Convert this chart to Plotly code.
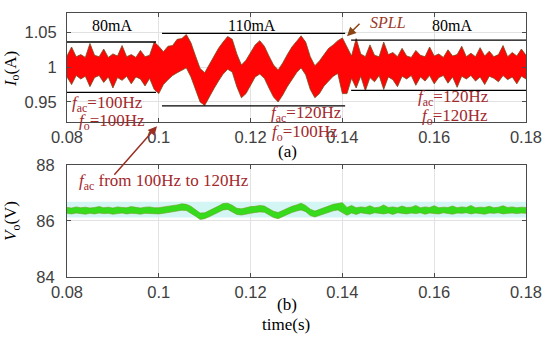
import numpy as np
import plotly.graph_objects as go

# ---------------- data ----------------
t_start = 0.080
t_step = 0.001
n_samples = 101
time_s = np.round(t_start + t_step * np.arange(n_samples), 3)

# Io (A) envelope
io_upper = [
    1.016, 1.029, 1.015, 1.018, 1.014, 1.034, 1.017, 1.015, 1.026, 1.014,
    1.019, 1.016, 1.031, 1.015, 1.018, 1.014, 1.024, 1.015, 1.017, 1.036,
    1.030, 1.022, 1.030, 1.031, 1.040, 1.041, 1.047, 1.035, 1.016, 0.998,
    0.992, 1.004, 1.015, 1.027, 1.036, 1.044, 1.040, 1.019, 1.003, 1.010,
    1.021, 1.032, 1.038, 1.030, 1.016, 1.003, 0.996, 1.006, 1.018, 1.029,
    1.037, 1.045, 1.036, 1.015, 1.002, 1.009, 1.018, 1.027, 1.032, 1.038,
    1.042,
    1.030, 1.016, 1.041, 1.019, 1.015, 1.032, 1.017, 1.015, 1.036, 1.018,
    1.021, 1.015, 1.027, 1.016, 1.014, 1.024, 1.017, 1.015, 1.029, 1.016,
    1.019, 1.014, 1.025, 1.016, 1.018, 1.030, 1.015, 1.020, 1.015, 1.028,
    1.016, 1.023, 1.015, 1.018, 1.031, 1.015, 1.021, 1.016, 1.026, 1.017,
]
io_lower = [
    0.986, 0.975, 0.988, 0.983, 0.987, 0.972, 0.985, 0.988, 0.978, 0.986,
    0.970, 0.985, 0.981, 0.987, 0.976, 0.986, 0.983, 0.973, 0.984, 0.968,
    0.962, 0.975, 0.982, 0.988, 0.992, 0.996, 0.999, 0.986, 0.968, 0.950,
    0.945, 0.958, 0.969, 0.980, 0.990, 0.997, 0.993, 0.972, 0.956, 0.962,
    0.975, 0.986, 0.990, 0.984, 0.970, 0.957, 0.950, 0.960, 0.972, 0.983,
    0.992, 0.999, 0.989, 0.968, 0.956, 0.962, 0.973, 0.980, 0.987, 0.991,
    0.962,
    0.962, 0.984, 0.970, 0.987, 0.966, 0.985, 0.979, 0.988, 0.968, 0.986,
    0.982, 0.972, 0.987, 0.983, 0.988, 0.974, 0.986, 0.980, 0.988, 0.976,
    0.985, 0.988, 0.977, 0.986, 0.971, 0.987, 0.983, 0.988, 0.980, 0.986,
    0.975, 0.987, 0.984, 0.979, 0.988, 0.982, 0.986, 0.976, 0.987, 0.983,
]

# Vo (V) envelope
vo_upper = [
    86.48, 86.46, 86.50, 86.47, 86.49, 86.46, 86.48, 86.51, 86.47, 86.49,
    86.46, 86.50, 86.48, 86.47, 86.51, 86.48, 86.46, 86.49, 86.50, 86.47,
    86.47, 86.50, 86.52, 86.55, 86.57, 86.61, 86.59, 86.52, 86.39, 86.28,
    86.29, 86.36, 86.45, 86.53, 86.62, 86.63, 86.56, 86.45, 86.43, 86.47,
    86.51, 86.52, 86.55, 86.53, 86.44, 86.34, 86.30, 86.38, 86.45, 86.52,
    86.57, 86.63, 86.55, 86.42, 86.35, 86.41, 86.49, 86.54, 86.59, 86.62,
    86.65,
    86.48, 86.55, 86.47, 86.50, 86.48, 86.54, 86.47, 86.49, 86.57, 86.48,
    86.50, 86.47, 86.53, 86.48, 86.49, 86.55, 86.47, 86.50, 86.48, 86.54,
    86.47, 86.49, 86.48, 86.53, 86.47, 86.50, 86.48, 86.55, 86.47, 86.49,
    86.48, 86.52, 86.47, 86.49, 86.54, 86.48, 86.50, 86.47, 86.49, 86.48,
]
vo_lower = [
    86.27, 86.25, 86.28, 86.26, 86.24, 86.27, 86.25, 86.28, 86.26, 86.27,
    86.24, 86.26, 86.28, 86.25, 86.27, 86.26, 86.24, 86.27, 86.26, 86.25,
    86.25, 86.27, 86.30, 86.32, 86.36, 86.38, 86.37, 86.28, 86.17, 86.05,
    86.08, 86.15, 86.23, 86.31, 86.39, 86.41, 86.32, 86.23, 86.21, 86.25,
    86.27, 86.30, 86.32, 86.31, 86.22, 86.12, 86.08, 86.16, 86.24, 86.30,
    86.35, 86.39, 86.33, 86.19, 86.14, 86.20, 86.26, 86.31, 86.36, 86.39,
    86.29,
    86.20, 86.28, 86.23, 86.29, 86.26, 86.24, 86.29, 86.27, 86.25, 86.28,
    86.23, 86.29, 86.27, 86.25, 86.28, 86.26, 86.29, 86.24, 86.28, 86.27,
    86.25, 86.29, 86.26, 86.24, 86.28, 86.27, 86.29, 86.25, 86.28, 86.26,
    86.24, 86.28, 86.27, 86.29, 86.25, 86.27, 86.28, 86.26, 86.28, 86.27,
]

# current reference levels (A) and their time spans (s)
level_segments = [
    # (t0, t1, upper, lower)
    (0.0800, 0.0994, 1.0361, 0.9639),
    (0.1007, 0.1406, 1.0486, 0.9444),
    (0.1419, 0.1800, 1.0389, 0.9667),
]

x_tick_vals = [0.08, 0.10, 0.12, 0.14, 0.16, 0.18]
x_tick_text = ["0.08", "0.1", "0.12", "0.14", "0.16", "0.18"]
io_tick_vals = [0.95, 1.0, 1.05]
io_tick_text = ["0.95", "1", "1.05"]
vo_tick_vals = [84, 86, 88]
vo_tick_text = ["84", "86", "88"]

assert len(io_upper) == n_samples and len(io_lower) == n_samples
assert len(vo_upper) == n_samples and len(vo_lower) == n_samples

# ---------------- figure ----------------
W, H = 550, 339
ML, MR, MT, MB = 67, 24, 4, 62
PW, PH = W - ML - MR, H - MT - MB

def px(xp, yp):
    return (xp - ML) / PW, (H - MB - yp) / PH

SERIF = "Liberation Serif, Times New Roman, serif"
SANS = "Liberation Sans, Arial, sans-serif"
RED_TXT = "#A3282C"

fig = go.Figure()

fig.add_trace(go.Scatter(x=time_s, y=io_lower, mode="lines",
                         line=dict(color="#7a4a1a", width=0.8),
                         xaxis="x", yaxis="y", showlegend=False, hoverinfo="skip"))
fig.add_trace(go.Scatter(x=time_s, y=io_upper, mode="lines", fill="tonexty",
                         fillcolor="#FF0505",
                         line=dict(color="#7a4a1a", width=0.8),
                         xaxis="x", yaxis="y", showlegend=False, hoverinfo="skip"))

fig.add_trace(go.Scatter(x=time_s, y=vo_lower, mode="lines",
                         line=dict(color="#6b9e1e", width=0.6),
                         xaxis="x2", yaxis="y2", showlegend=False, hoverinfo="skip"))
fig.add_trace(go.Scatter(x=time_s, y=vo_upper, mode="lines", fill="tonexty",
                         fillcolor="#36DC1C",
                         line=dict(color="#6b9e1e", width=0.6),
                         xaxis="x2", yaxis="y2", showlegend=False, hoverinfo="skip"))

axis_common = dict(showline=True, linecolor="#4a4a4a", linewidth=1, mirror="ticks",
                   ticks="inside", ticklen=4, tickcolor="#4a4a4a",
                   showgrid=True, gridcolor="#e2e2e2", gridwidth=1, zeroline=False,
                   ticklabeloverflow="allow",
                   tickfont=dict(family=SANS, size=16.5, color="#404040"))

top_dom = [(H - MB - 117) / PH, 1.0]
bot_dom = [0.0, (H - MB - 161) / PH]

fig.update_layout(
    width=W, height=H,
    margin=dict(l=ML, r=MR, t=MT, b=MB),
    paper_bgcolor="white", plot_bgcolor="white",
    xaxis=dict(domain=[0, 1], range=[0.08, 0.18], anchor="y",
               tickvals=x_tick_vals, ticktext=x_tick_text, **axis_common),
    yaxis=dict(domain=top_dom, range=[0.9208, 1.0778], anchor="x",
               tickvals=io_tick_vals, ticktext=io_tick_text,
               ticklabelstandoff=6, **axis_common),
    xaxis2=dict(domain=[0, 1], range=[0.08, 0.18], anchor="y2",
                tickvals=x_tick_vals, ticktext=x_tick_text, **axis_common),
    yaxis2=dict(domain=bot_dom, range=[84, 88], anchor="x2",
                tickvals=vo_tick_vals, ticktext=vo_tick_text,
                ticklabelstandoff=8, **axis_common),
)

shapes = []
# faint cyan halo behind Vo band
shapes.append(dict(type="rect", xref="x2", yref="y2", x0=0.08, x1=0.18,
                   y0=86.12, y1=86.68, fillcolor="#d3f6f5", line=dict(width=0),
                   layer="below"))
for t0, t1, up, lo in level_segments:
    for yv in (up, lo):
        shapes.append(dict(type="line", xref="x", yref="y", x0=t0, x1=t1,
                           y0=yv, y1=yv, line=dict(color="black", width=1.3)))
fig.update_layout(shapes=shapes)

ann = []
def text(xp, yp, s, size=17, color="black", family=SERIF, **kw):
    x, y = px(xp, yp)
    d = dict(x=x, y=y, xref="paper", yref="paper", text=s, showarrow=False,
             font=dict(family=family, size=size, color=color),
             xanchor="center", yanchor="middle")
    d.update(kw)
    ann.append(d)

text(112, 17, "80mA", size=16)
text(252, 17, "110mA", size=16)
text(452, 17, "80mA", size=16)
text(388, 14, "<i>SPLL</i>", size=16, color="#9c3a2a")
text(107, 98, "<i>f</i><sub>ac</sub>=100Hz", color=RED_TXT)
text(112, 117, "<i>f</i><sub>o</sub>=100Hz", color=RED_TXT)
text(306, 108, "<i>f</i><sub>ac</sub>=120Hz", color=RED_TXT)
text(305, 128, "<i>f</i><sub>o</sub>=100Hz", color=RED_TXT)
text(453, 92, "<i>f</i><sub>ac</sub>=120Hz", color=RED_TXT)
text(455, 112, "<i>f</i><sub>o</sub>=120Hz", color=RED_TXT)
text(164, 179, "<i>f</i><sub>ac</sub> from 100Hz to 120Hz", color=RED_TXT)
text(287, 147, "(a)")
text(287, 305, "(b)")
text(286, 326, "time(s)")
text(12, 62, "<i>I</i><sub>o</sub>(A)", textangle=-90)
text(12, 219, "<i>V</i><sub>o</sub>(V)", textangle=-90)

# arrows (tail offset in pixels from the tip)
def arrow(tail, tip, color):
    tx, ty = px(*tip)
    ann.append(dict(x=tx, y=ty, xref="paper", yref="paper",
                    ax=tail[0] - tip[0], ay=tail[1] - tip[1],
                    axref="pixel", ayref="pixel",
                    text="", showarrow=True, arrowhead=2, arrowsize=1.2,
                    arrowwidth=1.5, arrowcolor=color))

arrow((361, 14), (347, 28), "#8B4513")
arrow((113, 171), (157, 121), "#9a2f22")

fig.update_layout(annotations=ann)

fig.write_html("out.html",
               config={"displayModeBar": False},
               post_script="document.body.style.margin='0';document.body.style.padding='0';")
